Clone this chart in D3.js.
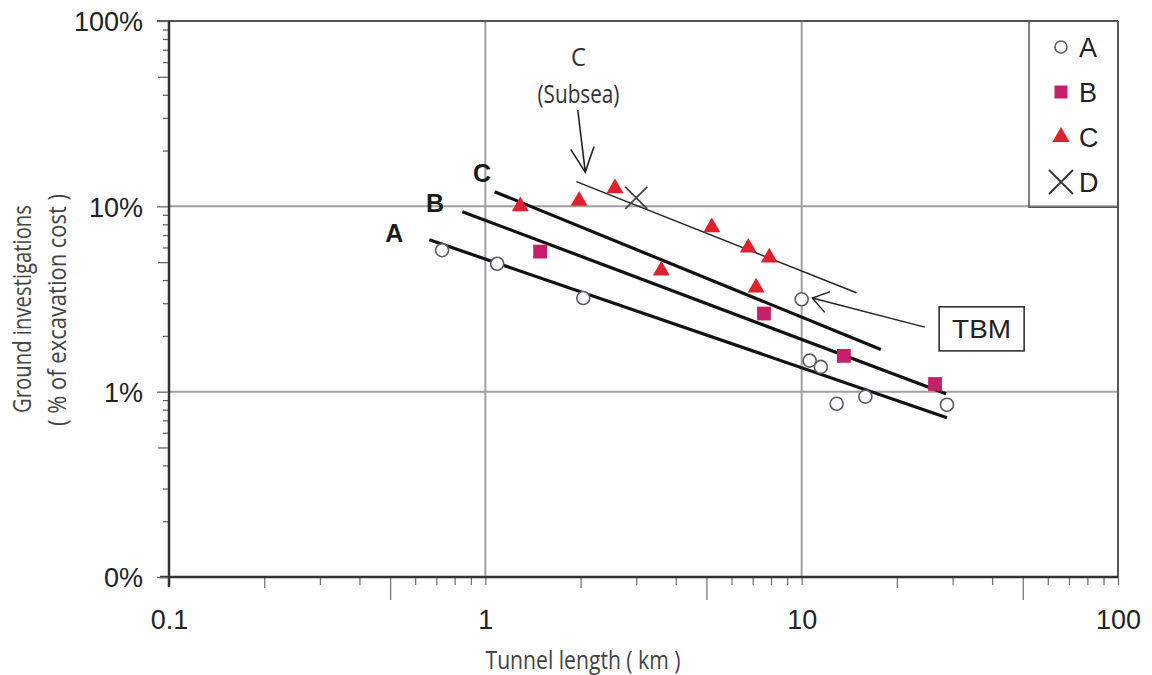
<!DOCTYPE html>
<html>
<head>
<meta charset="utf-8">
<script src="https://cdn.jsdelivr.net/npm/d3@7"></script>
<style>
  html, body { margin: 0; padding: 0; background: #ffffff; }
  svg { display: block; }
</style>
</head>
<body>
<svg id="chart" width="1152" height="675"></svg>
<script>
// ---------------- DATA ----------------
const xTickValues = [0.1, 1, 10, 100];
const xTickLabels = ["0.1", "1", "10", "100"];
const yTickValues = [0.1, 1, 10, 100];
const yTickLabels = ["0%", "1%", "10%", "100%"];

// Series A (open circles)
const seriesA_km  = [0.73, 1.09, 2.04, 10.0, 10.6, 11.5, 12.9, 15.9, 28.8];
const seriesA_pct = [5.8, 4.9, 3.2, 3.15, 1.47, 1.36, 0.86, 0.94, 0.85];
// Series B (squares)
const seriesB_km  = [1.49, 7.6, 13.6, 26.4];
const seriesB_pct = [5.7, 2.64, 1.56, 1.1];
// Series C (triangles)
const seriesC_km  = [1.29, 1.98, 2.57, 3.6, 5.2, 6.78, 7.9, 7.18];
const seriesC_pct = [10.0, 10.7, 12.5, 4.5, 7.7, 5.98, 5.29, 3.64];
// Series D (cross)
const seriesD_km  = [3.0];
const seriesD_pct = [11.1];

// Trend lines
const trendA_km = [0.665, 28.8], trendA_pct = [6.6, 0.724];
const trendB_km = [0.846, 28.6], trendB_pct = [9.36, 0.975];
const trendC_km = [1.07, 17.8],  trendC_pct = [12.0, 1.69];
const subsea_km = [1.94, 14.9],  subsea_pct = [13.6, 3.42];

const legendNames = ["A", "B", "C", "D"];

// ---------------- SETUP ----------------
const svg = d3.select("#chart");
const x = d3.scaleLog().domain([0.1, 100]).range([169, 1118]);
const y = d3.scaleLog().domain([0.1, 100]).range([577, 21]);

const AX = "#333333";
const GRID = "#a0a0a0";
const SQ = "#c41f68";
const TRI = "#e0202c";
const CIRC = "#5a5a6a";

const zip = (a, b) => a.map((v, i) => [v, b[i]]);

// gridlines
const grid = svg.append("g");
grid.selectAll("line.gx").data([1, 10]).join("line")
  .attr("x1", d => x(d)).attr("x2", d => x(d))
  .attr("y1", y(100)).attr("y2", y(0.1))
  .attr("stroke", GRID).attr("stroke-width", 2);
grid.selectAll("line.gy").data([1, 10]).join("line")
  .attr("y1", d => y(d)).attr("y2", d => y(d))
  .attr("x1", x(0.1)).attr("x2", x(100))
  .attr("stroke", GRID).attr("stroke-width", 2);

// plot border (top and right)
svg.append("line").attr("x1", x(0.1) - 12).attr("x2", x(100)).attr("y1", y(100)).attr("y2", y(100))
  .attr("stroke", "#555").attr("stroke-width", 2);
svg.append("line").attr("x1", x(100)).attr("x2", x(100)).attr("y1", y(100)).attr("y2", y(0.1))
  .attr("stroke", "#555").attr("stroke-width", 2);

// legend box
const lgX0 = x(100) - 89;
svg.append("path")
  .attr("d", `M${lgX0},${y(100)} V${y(10) + 1} H${x(100)}`)
  .attr("fill", "none").attr("stroke", "#555").attr("stroke-width", 1.5);

const mant = d => Math.round(d / Math.pow(10, Math.floor(Math.log10(d) + 1e-9)));

// X axis
const xAxis = d3.axisBottom(x)
  .tickValues(x.ticks())
  .tickFormat(d => { const i = xTickValues.findIndex(v => Math.abs(v - d) < 1e-9); return i >= 0 ? xTickLabels[i] : ""; })
  .tickSizeOuter(0);
const gx = svg.append("g").attr("transform", `translate(0,${y(0.1)})`).call(xAxis);
gx.select(".domain").remove();
gx.selectAll(".tick line")
  .attr("y2", d => { const m = mant(d); return m === 1 ? 8 : m === 5 ? 23 : m === 2 ? 11 : 8; })
  .attr("stroke", "#777").attr("stroke-width", 1.3);
gx.selectAll(".tick text")
  .attr("y", 33).attr("dy", "0.71em")
  .attr("font-family", "'Liberation Sans', Arial, sans-serif")
  .attr("font-size", 27).attr("fill", "#222");
svg.append("line").attr("x1", x(0.1) - 9).attr("x2", x(100)).attr("y1", y(0.1)).attr("y2", y(0.1))
  .attr("stroke", AX).attr("stroke-width", 2.5);

// Y axis
const yAxis = d3.axisLeft(y)
  .tickValues(y.ticks())
  .tickFormat(d => { const i = yTickValues.findIndex(v => Math.abs(v - d) < 1e-9); return i >= 0 ? yTickLabels[i] : ""; })
  .tickSizeOuter(0);
const gy = svg.append("g").attr("transform", `translate(${x(0.1)},0)`).call(yAxis);
gy.select(".domain").remove();
gy.selectAll(".tick line")
  .attr("x2", d => { const m = mant(d); return m === 1 ? -12 : m === 5 ? -11 : -6; })
  .attr("stroke", "#666").attr("stroke-width", 1.3);
gy.selectAll(".tick text")
  .attr("x", -26).attr("dy", "0.36em")
  .attr("font-family", "'Liberation Sans', Arial, sans-serif")
  .attr("font-size", 27).attr("fill", "#222");
svg.append("line").attr("x1", x(0.1)).attr("x2", x(0.1)).attr("y1", y(100)).attr("y2", y(0.1) + 10)
  .attr("stroke", AX).attr("stroke-width", 2.5);

// axis titles
const capFont = "'Open Sans', 'Noto Sans', sans-serif";
svg.append("text").attr("x", 583).attr("y", 669).attr("text-anchor", "middle")
  .attr("font-family", capFont).attr("font-size", 25).attr("fill", "#444")
  .attr("textLength", 195).attr("lengthAdjust", "spacingAndGlyphs")
  .text("Tunnel length ( km )");
svg.append("text").attr("transform", "translate(31,309) rotate(-90)").attr("text-anchor", "middle")
  .attr("font-family", capFont).attr("font-size", 25).attr("fill", "#444")
  .attr("textLength", 208).attr("lengthAdjust", "spacingAndGlyphs")
  .text("Ground investigations");
svg.append("text").attr("transform", "translate(66,310) rotate(-90)").attr("text-anchor", "middle")
  .attr("font-family", capFont).attr("font-size", 25).attr("fill", "#444")
  .attr("textLength", 232).attr("lengthAdjust", "spacingAndGlyphs")
  .text("( % of  excavation cost )");

// trend lines
const line = d3.line().x(d => x(d[0])).y(d => y(d[1]));
[[trendA_km, trendA_pct], [trendB_km, trendB_pct], [trendC_km, trendC_pct]].forEach(([k, p]) => {
  svg.append("path").attr("d", line(zip(k, p))).attr("fill", "none")
    .attr("stroke", "#111").attr("stroke-width", 3.2);
});
svg.append("path").attr("d", line(zip(subsea_km, subsea_pct))).attr("fill", "none")
  .attr("stroke", "#222").attr("stroke-width", 1.5);

// trend labels
const boldFont = "'Liberation Sans', Arial, sans-serif";
const trendLabels = [["A", 0.515, 6.43], ["B", 0.693, 9.33], ["C", 0.976, 13.5]];
svg.selectAll("text.tl").data(trendLabels).join("text")
  .attr("x", d => x(d[1])).attr("y", d => y(d[2]))
  .attr("text-anchor", "middle").attr("font-family", boldFont)
  .attr("font-weight", "bold").attr("font-size", 25).attr("fill", "#1a1a1a")
  .text(d => d[0]);

// markers
const markers = {
  A: (g) => g.append("circle").attr("r", 6.5).attr("fill", "#fff").attr("stroke", CIRC).attr("stroke-width", 1.6),
  B: (g) => g.append("path").attr("d", d3.symbol(d3.symbolSquare, 190)()).attr("fill", SQ),
  C: (g) => g.append("path").attr("d", d3.symbol(d3.symbolTriangle, 125)()).attr("fill", TRI),
  D: (g) => g.append("path").attr("d", "M-11,-11L11,11M-11,11L11,-11").attr("stroke", "#444").attr("stroke-width", 1.8).attr("fill", "none"),
};
const series = [["A", seriesA_km, seriesA_pct], ["B", seriesB_km, seriesB_pct], ["C", seriesC_km, seriesC_pct], ["D", seriesD_km, seriesD_pct]];
series.forEach(([name, k, p]) => {
  zip(k, p).forEach(d => {
    const g = svg.append("g").attr("transform", `translate(${x(d[0])},${y(d[1])})`);
    markers[name](g);
  });
});

// legend items
legendNames.forEach((name, i) => {
  const cy = y(100) + 26 + i * 45;
  const g = svg.append("g").attr("transform", `translate(${lgX0 + 32},${cy})`);
  if (name === "A") g.append("circle").attr("r", 6).attr("fill", "#fff").attr("stroke", CIRC).attr("stroke-width", 1.6);
  if (name === "B") g.append("path").attr("d", d3.symbol(d3.symbolSquare, 169)()).attr("fill", SQ);
  if (name === "C") g.append("path").attr("d", d3.symbol(d3.symbolTriangle, 130)()).attr("fill", TRI);
  if (name === "D") g.append("path").attr("d", "M-12,-12L12,12M-12,12L12,-12").attr("stroke", "#333").attr("stroke-width", 1.8);
  svg.append("text").attr("x", lgX0 + 50).attr("y", cy).attr("dy", "0.36em")
    .attr("font-family", boldFont).attr("font-size", 27).attr("fill", "#222").text(name);
});

// annotation: C (Subsea)
svg.append("text").attr("x", x(1.97)).attr("y", y(57)).attr("text-anchor", "middle")
  .attr("font-family", capFont).attr("font-size", 25).attr("fill", "#333")
  .attr("textLength", 15).attr("lengthAdjust", "spacingAndGlyphs").text("C");
svg.append("text").attr("x", x(1.97)).attr("y", y(36)).attr("text-anchor", "middle")
  .attr("font-family", capFont).attr("font-size", 25).attr("fill", "#333")
  .attr("textLength", 82).attr("lengthAdjust", "spacingAndGlyphs").text("(Subsea)");

function arrow(k0, p0, k1, p1, headLen, headAng, sw) {
  const x0 = x(k0), y0 = y(p0), x1 = x(k1), y1 = y(p1);
  const a = Math.atan2(y1 - y0, x1 - x0);
  const h1 = [x1 - headLen * Math.cos(a - headAng), y1 - headLen * Math.sin(a - headAng)];
  const h2 = [x1 - headLen * Math.cos(a + headAng), y1 - headLen * Math.sin(a + headAng)];
  svg.append("path")
    .attr("d", `M${x0},${y0}L${x1},${y1}M${h1[0]},${h1[1]}L${x1},${y1}L${h2[0]},${h2[1]}`)
    .attr("fill", "none").attr("stroke", "#222").attr("stroke-width", sw)
    .attr("stroke-linejoin", "miter");
}
arrow(1.96, 33.1, 2.07, 15.3, 27, 0.45, 1.6);
arrow(24.5, 2.23, 10.8, 3.2, 19, 0.6, 1.4);

// TBM box
const tbmX0 = x(27.2), tbmX1 = x(50.5), tbmY0 = y(2.87), tbmY1 = y(1.66);
svg.append("rect").attr("x", tbmX0).attr("y", tbmY0).attr("width", tbmX1 - tbmX0).attr("height", tbmY1 - tbmY0)
  .attr("fill", "#fff").attr("stroke", "#333").attr("stroke-width", 1.6);
svg.append("text").attr("x", (tbmX0 + tbmX1) / 2).attr("y", (tbmY0 + tbmY1) / 2).attr("dy", "0.36em")
  .attr("text-anchor", "middle").attr("font-family", boldFont).attr("font-size", 26).attr("fill", "#222")
  .attr("textLength", 59).attr("lengthAdjust", "spacingAndGlyphs").text("TBM");
</script>
</body>
</html>
